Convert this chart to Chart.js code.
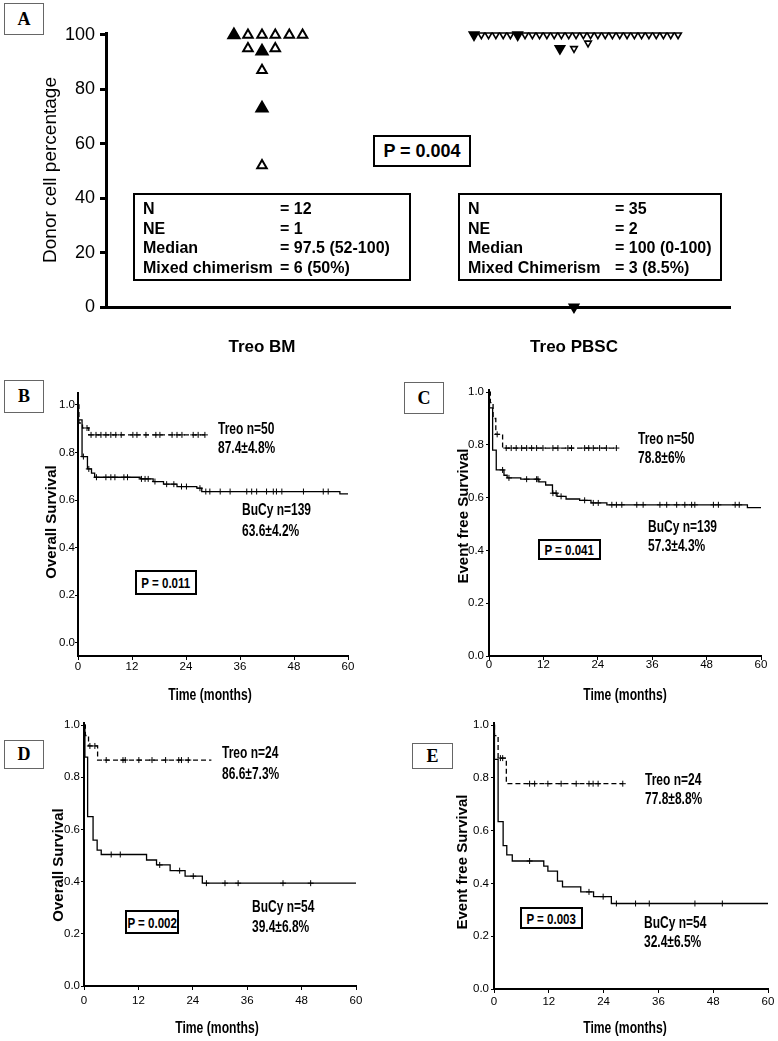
<!DOCTYPE html>
<html>
<head>
<meta charset="utf-8">
<script src="https://cdn.jsdelivr.net/npm/chart.js@4.4.1/dist/chart.umd.min.js"></script>
<style>
  body { margin: 0; background: #fff; width: 778px; height: 1041px; position: relative; overflow: hidden;
         font-family: "Liberation Sans", Arial, sans-serif; color: #000; }
  canvas { position: absolute; }
  .panel-label { position: absolute; border: 1px solid #666; box-sizing: border-box; display: flex;
                 align-items: center; justify-content: center; font: bold 18px "Liberation Serif", "Times New Roman", serif; background: #fff; }
  .pbox { position: absolute; border: 2px solid #000; box-sizing: border-box; display: flex; align-items: center;
          justify-content: center; white-space: nowrap; font: bold 15px "Liberation Sans", Arial, sans-serif; background: #fff; }
  .pbox span { display: inline-block; transform: scaleX(0.77); }
  .pbox.big span { font-size: 18px; transform: none; }
  .note { position: absolute; transform: translateY(-50%) scaleX(0.75); transform-origin: left center; white-space: nowrap;
          font: bold 16px "Liberation Sans", Arial, sans-serif; }
  .xtitle { position: absolute; transform: translate(-50%, -50%) scaleX(0.76); white-space: nowrap;
            font: bold 16px "Liberation Sans", Arial, sans-serif; }
  .ytitle { position: absolute; transform: translate(-50%, -50%) rotate(-90deg); white-space: nowrap;
            font: bold 15px "Liberation Sans", Arial, sans-serif; }
  .ytitle.a { font: 19px "Liberation Sans", Arial, sans-serif; }
  .stats { position: absolute; border: 2px solid #000; box-sizing: border-box; padding: 4px 0 0 8px;
           font: bold 16px "Liberation Sans", Arial, sans-serif; line-height: 19.7px; white-space: nowrap; }
  .stats span { display: inline-block; }
</style>
</head>
<body>
<canvas id="chart-a" width="778" height="365" style="left:0px;top:0px"></canvas>
<canvas id="chart-b" width="390" height="310" style="left:0px;top:370px"></canvas>
<canvas id="chart-c" width="388" height="310" style="left:390px;top:370px"></canvas>
<canvas id="chart-d" width="390" height="320" style="left:0px;top:700px"></canvas>
<canvas id="chart-e" width="388" height="320" style="left:390px;top:700px"></canvas>

<div class="stats" style="left:133px;top:193px;width:278px;height:88px">
  <div><span style="width:137px">N</span><span>= 12</span></div>
  <div><span style="width:137px">NE</span><span>= 1</span></div>
  <div><span style="width:137px">Median</span><span>= 97.5 (52-100)</span></div>
  <div><span style="width:137px">Mixed chimerism</span><span>= 6 (50%)</span></div>
</div>
<div class="stats" style="left:458px;top:193px;width:264px;height:88px">
  <div><span style="width:147px">N</span><span>= 35</span></div>
  <div><span style="width:147px">NE</span><span>= 2</span></div>
  <div><span style="width:147px">Median</span><span>= 100 (0-100)</span></div>
  <div><span style="width:147px">Mixed Chimerism</span><span>= 3 (8.5%)</span></div>
</div>

<script>
const SANS = '"Liberation Sans", Arial, sans-serif';

// ---- panel A: donor chimerism ----
const groupNames = ["Treo BM", "Treo PBSC"];
const groupPos = [1, 3];
const chimTicks = [0, 20, 40, 60, 80, 100];

const bmValues = [100, 100, 100, 100, 100, 100, 95, 94, 95, 87, 73, 52];
const bmFilled = [true, false, false, false, false, false, false, true, false, false, true, false];
const bmJitter = [-0.18, -0.09, 0, 0.085, 0.175, 0.26, -0.09, 0, 0.085, 0, 0, 0];

const pbscValues = [100, 100, 100, 100, 100, 100, 100, 100, 100, 100, 100, 100, 100, 100, 100,
  100, 100, 100, 100, 100, 100, 100, 100, 100, 100, 100, 100, 100, 100, 95, 95, 97, 0];
const pbscFilled = [true, false, false, false, false, false, true, false, false, false, false, false, false, false, false,
  false, false, false, false, false, false, false, false, false, false, false, false, false, false, true, false, false, true];
const pbscJitter = [-0.641, -0.594, -0.548, -0.501, -0.454, -0.408, -0.361, -0.314, -0.267, -0.221, -0.174, -0.127,
  -0.081, -0.034, 0.013, 0.06, 0.106, 0.153, 0.2, 0.246, 0.293, 0.34, 0.387, 0.433, 0.48, 0.527, 0.573, 0.62, 0.667,
  -0.09, 0, 0.09, 0];

// ---- survival panels (months, survival) ----
const survTicks = [0, 0.2, 0.4, 0.6, 0.8, 1.0];
const monthTicks = [0, 12, 24, 36, 48, 60];

// B: overall survival, all patients
const osTreoTimes = [0, 0.2, 1.0, 2.4, 28.2];
const osTreoSurv = [1, 0.924, 0.903, 0.874, 0.874];
const osTreoCensor = [2.0, 2.9, 4.0, 5.1, 6.2, 7.3, 8.4, 9.6, 12.2, 13.1, 15.1, 17.3, 18.2, 20.9, 22, 23.1, 25.6, 26.7, 28.2];
const osBucyTimes = [0, 0.1, 0.9, 2.1, 3.0, 3.7, 13.8, 16.7, 19, 22, 26.4, 27.5, 58.2, 60];
const osBucySurv = [1, 0.937, 0.783, 0.731, 0.713, 0.696, 0.689, 0.678, 0.667, 0.657, 0.65, 0.636, 0.626, 0.626];
const osBucyCensor = [1.2, 2.4, 4.1, 6.2, 7.3, 8.2, 10.2, 11, 14.1, 14.9, 15.6, 17.1, 19.7, 21.3, 23, 24.1, 27.1,
  28.4, 29.3, 31.6, 33.8, 37.5, 38.6, 39.7, 41.9, 43.4, 44.1, 45.3, 50.1, 54.5, 55.6];

// C: event free survival, all patients
const efsTreoTimes = [0, 0.3, 0.9, 1.5, 3.0, 28.1];
const efsTreoSurv = [1, 0.96, 0.90, 0.84, 0.788, 0.788];
const efsTreoCensor = [1.8, 3.8, 4.9, 6.0, 7.2, 8.3, 9.4, 10.5, 11.9, 14.1, 15.2, 17.4, 18.2, 21.1, 22, 23, 24.4, 25.9, 28.1];
const efsBucyTimes = [0, 0.1, 0.8, 1.6, 3.3, 4.0, 7.0, 11.0, 12.5, 14.0, 15.0, 17.0, 20.0, 22.5, 26.0, 57, 60];
const efsBucySurv = [1, 0.94, 0.78, 0.705, 0.685, 0.675, 0.67, 0.66, 0.648, 0.617, 0.605, 0.595, 0.59, 0.58, 0.573, 0.562, 0.562];
const efsBucyCensor = [3.0, 4.4, 8.3, 10.5, 10.8, 14.1, 14.8, 15.9, 21.1, 23, 24.1, 27.1, 28.1, 29.3, 32.6, 34,
  37.7, 39.2, 41.4, 43.2, 44.7, 45.4, 49.5, 50.6, 54.3, 55.2];

// D: overall survival, subgroup
const osSubTreoTimes = [0, 0.3, 1.0, 3.0, 28.1];
const osSubTreoSurv = [1, 0.96, 0.92, 0.866, 0.866];
const osSubTreoCensor = [1.3, 2.4, 4.9, 8.6, 9.1, 12.1, 15, 18, 20.9, 21.5, 23];
const osSubBucyTimes = [0, 0.2, 0.8, 2.0, 2.9, 3.8, 13.8, 16, 19, 22.3, 26.1, 60];
const osSubBucySurv = [1, 0.877, 0.649, 0.559, 0.521, 0.504, 0.483, 0.464, 0.442, 0.421, 0.394, 0.394];
const osSubBucyCensor = [6.0, 8.0, 16.7, 21.1, 24.1, 27, 31.1, 34, 43.9, 50];

// E: event free survival, subgroup
const efsSubTreoTimes = [0, 0.1, 0.9, 2.7, 28.2];
const efsSubTreoSurv = [1, 0.96, 0.875, 0.778, 0.778];
const efsSubTreoCensor = [1.4, 1.9, 7.8, 8.9, 11.8, 14.7, 18, 20.8, 21.7, 22.8, 28.2];
const efsSubBucyTimes = [0, 0.1, 0.9, 2.0, 2.8, 4.0, 10.9, 11.8, 13.9, 15.0, 19.0, 21.8, 25.7, 60];
const efsSubBucySurv = [1, 0.87, 0.634, 0.543, 0.508, 0.485, 0.466, 0.447, 0.409, 0.387, 0.368, 0.35, 0.324, 0.324];
const efsSubBucyCensor = [7.8, 20.8, 23.9, 26.8, 31, 34, 44, 50];

// ---------------------------------------------------------------

// fixed axis sizes so the plot areas land where the original has them
function fixWidth(w) { return (scale) => { scale.width = w; }; }
function fixHeight(h) { return (scale) => { scale.height = h; }; }
function setTicks(values) { return (scale) => { scale.ticks = values.map((v) => ({ value: v })); }; }

function groupPoints(pos, values, jitter) {
  return values.map((v, i) => ({ x: pos + jitter[i], y: v }));
}

new Chart(document.getElementById("chart-a"), {
  type: "scatter",
  data: {
    datasets: [
      {
        data: groupPoints(groupPos[0], bmValues, bmJitter),
        pointStyle: "triangle",
        pointRadius: bmFilled.map((f) => (f ? 6.5 : 5.5)),
        pointBackgroundColor: bmFilled.map((f) => (f ? "#000" : "#fff")),
        pointBorderColor: "#000",
        pointBorderWidth: 2,
        clip: false,
      },
      {
        data: groupPoints(groupPos[1], pbscValues, pbscJitter),
        pointStyle: "triangle",
        rotation: 180,
        pointRadius: pbscFilled.map((f) => (f ? 5.5 : 3.8)),
        pointBackgroundColor: pbscFilled.map((f) => (f ? "#000" : "#fff")),
        pointBorderColor: "#000",
        pointBorderWidth: 1.6,
        clip: false,
      },
    ],
  },
  options: {
    responsive: false,
    animation: false,
    devicePixelRatio: 1,
    layout: { padding: { top: 33, right: 48, left: 0, bottom: 0 } },
    plugins: { legend: { display: false }, tooltip: { enabled: false } },
    scales: {
      x: {
        type: "linear", min: 0, max: 4,
        afterBuildTicks: setTicks(groupPos),
        afterFit: fixHeight(58),
        grid: { display: false },
        border: { display: true, color: "#000", width: 3 },
        ticks: {
          padding: 22, color: "#000",
          font: { family: SANS, size: 17, weight: "bold" },
          callback: (v) => groupNames[groupPos.indexOf(v)],
        },
      },
      y: {
        min: 0, max: 100.7,
        afterBuildTicks: setTicks(chimTicks),
        afterFit: fixWidth(106),
        grid: { drawOnChartArea: false, color: "#000", tickLength: 6, tickWidth: 3 },
        border: { display: true, color: "#000", width: 3 },
        ticks: { padding: 5, color: "#000", font: { family: SANS, size: 18 } },
      },
    },
  },
});

function survivalAt(times, surv, t) {
  let s = surv[0];
  times.forEach((ti, i) => { if (ti <= t) s = surv[i]; });
  return s;
}

function curve(times, surv, dashed) {
  return {
    data: times.map((t, i) => ({ x: t, y: surv[i] })),
    stepped: "before",
    borderColor: "#000",
    borderWidth: 1.3,
    borderDash: dashed ? [5, 3] : [],
    pointRadius: 0,
    fill: false,
    clip: false,
  };
}

function censors(marks, times, surv) {
  return {
    data: marks.map((t) => ({ x: t, y: survivalAt(times, surv, t) })),
    showLine: false,
    pointStyle: "cross",
    pointRadius: 3,
    pointBorderColor: "#000",
    pointBorderWidth: 1,
    clip: false,
  };
}

function kmChart(id, cfg) {
  return new Chart(document.getElementById(id), {
    type: "line",
    data: {
      datasets: [
        curve(cfg.treo[0], cfg.treo[1], true),
        censors(cfg.treo[2], cfg.treo[0], cfg.treo[1]),
        curve(cfg.bucy[0], cfg.bucy[1], false),
        censors(cfg.bucy[2], cfg.bucy[0], cfg.bucy[1]),
      ],
    },
    options: {
      responsive: false,
      animation: false,
      devicePixelRatio: 1,
      layout: { padding: { top: cfg.padTop, right: cfg.padRight, left: 0, bottom: 0 } },
      plugins: { legend: { display: false }, tooltip: { enabled: false } },
      scales: {
        x: {
          type: "linear", min: 0, max: 60,
          afterBuildTicks: setTicks(monthTicks),
          afterFit: fixHeight(cfg.xHeight),
          grid: { drawOnChartArea: false, color: "#000", tickLength: 4, tickWidth: 1 },
          border: { display: true, color: "#000", width: 2 },
          ticks: { padding: cfg.xPad, color: "#000", maxRotation: 0, font: { family: SANS, size: 11.5 } },
        },
        y: {
          type: "linear", min: cfg.yMin, max: cfg.yMax,
          afterBuildTicks: setTicks(survTicks),
          afterFit: fixWidth(cfg.yWidth),
          grid: { drawOnChartArea: false, color: "#000", tickLength: 3, tickWidth: 1 },
          border: { display: true, color: "#000", width: 2 },
          ticks: { padding: cfg.yPad, color: "#000", font: { family: SANS, size: 11.5 },
                   callback: (v) => v.toFixed(1) },
        },
      },
    },
  });
}

kmChart("chart-b", {
  treo: [osTreoTimes, osTreoSurv, osTreoCensor],
  bucy: [osBucyTimes, osBucySurv, osBucyCensor],
  yMin: -0.055, yMax: 1.05, yWidth: 78, xHeight: 24, padTop: 23, padRight: 42, xPad: 0, yPad: 0,
});
kmChart("chart-c", {
  treo: [efsTreoTimes, efsTreoSurv, efsTreoCensor],
  bucy: [efsBucyTimes, efsBucySurv, efsBucyCensor],
  yMin: 0, yMax: 1.008, yWidth: 99, xHeight: 24, padTop: 20, padRight: 17, xPad: -2, yPad: 2,
});
kmChart("chart-d", {
  treo: [osSubTreoTimes, osSubTreoSurv, osSubTreoCensor],
  bucy: [osSubBucyTimes, osSubBucySurv, osSubBucyCensor],
  yMin: 0, yMax: 1.008, yWidth: 84, xHeight: 34, padTop: 23, padRight: 34, xPad: 4, yPad: 1,
});
kmChart("chart-e", {
  treo: [efsSubTreoTimes, efsSubTreoSurv, efsSubTreoCensor],
  bucy: [efsSubBucyTimes, efsSubBucySurv, efsSubBucyCensor],
  yMin: 0, yMax: 1.008, yWidth: 104, xHeight: 31, padTop: 23, padRight: 10, xPad: 2, yPad: 2,
});

// ---- text and boxes on top of the canvases ----
function addDiv(cls, text, left, top, w, h) {
  const el = document.createElement("div");
  el.className = cls;
  if (cls.startsWith("pbox")) {
    const span = document.createElement("span");
    span.textContent = text;
    el.appendChild(span);
  } else {
    el.textContent = text;
  }
  el.style.left = left + "px";
  el.style.top = top + "px";
  if (w) el.style.width = w + "px";
  if (h) el.style.height = h + "px";
  document.body.appendChild(el);
}

addDiv("panel-label", "A", 4, 3, 40, 32);
addDiv("panel-label", "B", 4, 380, 40, 33);
addDiv("panel-label", "C", 404, 382, 40, 32);
addDiv("panel-label", "D", 4, 740, 40, 29);
addDiv("panel-label", "E", 412, 743, 41, 26);

addDiv("pbox big", "P = 0.004", 373, 135, 98, 32);
addDiv("pbox", "P = 0.011", 135, 570, 62, 25);
addDiv("pbox", "P = 0.041", 538, 539, 63, 21);
addDiv("pbox", "P = 0.002", 125, 910, 54, 24);
addDiv("pbox", "P = 0.003", 520, 907, 63, 22);

addDiv("ytitle a", "Donor cell percentage", 50, 170);
addDiv("ytitle", "Overall Survival", 50, 522);
addDiv("ytitle", "Event free Survival", 462, 516);
addDiv("ytitle", "Overall Survival", 57, 865);
addDiv("ytitle", "Event free Survival", 461, 862);

addDiv("xtitle", "Time (months)", 210, 695);
addDiv("xtitle", "Time (months)", 625, 695);
addDiv("xtitle", "Time (months)", 217, 1028);
addDiv("xtitle", "Time (months)", 625, 1028);

addDiv("note", "Treo n=50", 218, 429);
addDiv("note", "87.4\u00b14.8%", 218, 448);
addDiv("note", "BuCy n=139", 242, 510);
addDiv("note", "63.6\u00b14.2%", 242, 531);

addDiv("note", "Treo n=50", 638, 439);
addDiv("note", "78.8\u00b16%", 638, 458);
addDiv("note", "BuCy n=139", 648, 527);
addDiv("note", "57.3\u00b14.3%", 648, 546);

addDiv("note", "Treo n=24", 222, 753);
addDiv("note", "86.6\u00b17.3%", 222, 774);
addDiv("note", "BuCy n=54", 252, 907);
addDiv("note", "39.4\u00b16.8%", 252, 927);

addDiv("note", "Treo n=24", 645, 780);
addDiv("note", "77.8\u00b18.8%", 645, 799);
addDiv("note", "BuCy n=54", 644, 923);
addDiv("note", "32.4\u00b16.5%", 644, 942);
</script>
</body>
</html>
